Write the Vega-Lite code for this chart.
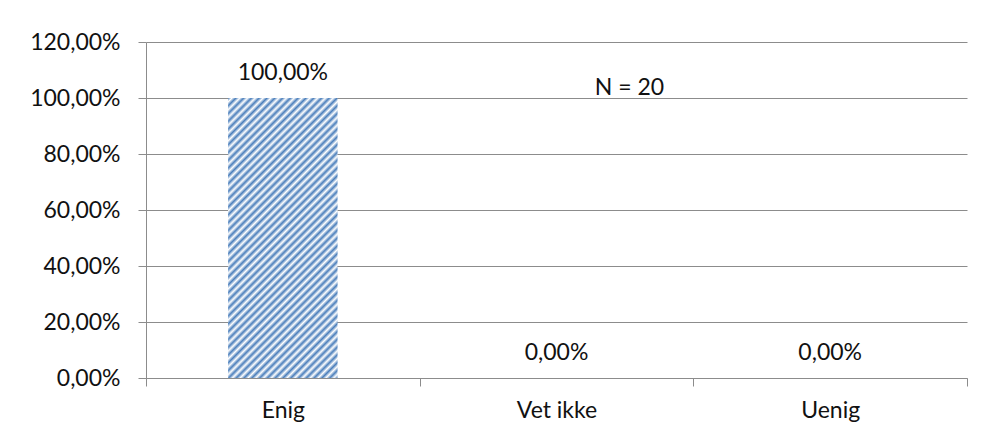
{
  "$schema": "https://vega.github.io/schema/vega-lite/v6.json",
  "width": 821,
  "height": 336,
  "autosize": {"type": "none"},
  "padding": {"left": 146, "top": 42, "right": 19, "bottom": 59},
  "background": "white",
  "config": {
    "locale": {"number": {"decimal": ",", "thousands": " ", "grouping": [3], "currency": ["", " kr"]}},
    "view": {"stroke": null},
    "font": "Lato"
  },
  "data": {
    "values": [
      {"svar": "Enig", "andel": 1.0},
      {"svar": "Vet ikke", "andel": 0.0},
      {"svar": "Uenig", "andel": 0.0}
    ]
  },
  "encoding": {
    "x": {
      "field": "svar", "type": "nominal", "sort": null,
      "scale": {"paddingInner": 0, "paddingOuter": 0},
      "axis": {
        "title": null, "labelAngle": 0, "tickBand": "extent",
        "domainColor": "#8c8c8c", "tickColor": "#8c8c8c", "tickSize": 8,
        "labelFont": "Lato", "labelFontSize": 23, "labelColor": "#111111",
        "labelPadding": 13, "grid": false
      }
    },
    "y": {
      "field": "andel", "type": "quantitative",
      "scale": {"domain": [0, 1.2], "nice": false, "zero": true},
      "axis": {
        "title": null, "format": ".2%", "values": [0, 0.2, 0.4, 0.6, 0.8, 1.0, 1.2],
        "domainColor": "#8c8c8c", "tickColor": "#8c8c8c", "tickSize": 8,
        "gridColor": "#8c8c8c", "grid": true,
        "labelFont": "Lato", "labelFontSize": 23, "labelColor": "#111111",
        "labelPadding": 18
      }
    }
  },
  "layer": [
    {
      "mark": {
        "type": "bar",
        "width": {"band": 0.4},
        "fill": {
          "gradient": "linear", "x1": 0, "y1": 0, "x2": 0.4718, "y2": 1.2065,
          "stops": [
            {"offset": 0, "color": "#4a7ebb"}, {"offset": 0.01, "color": "#ffffff"},
            {"offset": 0.02, "color": "#4a7ebb"}, {"offset": 0.03, "color": "#ffffff"},
            {"offset": 0.04, "color": "#4a7ebb"}, {"offset": 0.05, "color": "#ffffff"},
            {"offset": 0.06, "color": "#4a7ebb"}, {"offset": 0.07, "color": "#ffffff"},
            {"offset": 0.08, "color": "#4a7ebb"}, {"offset": 0.09, "color": "#ffffff"},
            {"offset": 0.10, "color": "#4a7ebb"}, {"offset": 0.11, "color": "#ffffff"},
            {"offset": 0.12, "color": "#4a7ebb"}, {"offset": 0.13, "color": "#ffffff"},
            {"offset": 0.14, "color": "#4a7ebb"}, {"offset": 0.15, "color": "#ffffff"},
            {"offset": 0.16, "color": "#4a7ebb"}, {"offset": 0.17, "color": "#ffffff"},
            {"offset": 0.18, "color": "#4a7ebb"}, {"offset": 0.19, "color": "#ffffff"},
            {"offset": 0.20, "color": "#4a7ebb"}, {"offset": 0.21, "color": "#ffffff"},
            {"offset": 0.22, "color": "#4a7ebb"}, {"offset": 0.23, "color": "#ffffff"},
            {"offset": 0.24, "color": "#4a7ebb"}, {"offset": 0.25, "color": "#ffffff"},
            {"offset": 0.26, "color": "#4a7ebb"}, {"offset": 0.27, "color": "#ffffff"},
            {"offset": 0.28, "color": "#4a7ebb"}, {"offset": 0.29, "color": "#ffffff"},
            {"offset": 0.30, "color": "#4a7ebb"}, {"offset": 0.31, "color": "#ffffff"},
            {"offset": 0.32, "color": "#4a7ebb"}, {"offset": 0.33, "color": "#ffffff"},
            {"offset": 0.34, "color": "#4a7ebb"}, {"offset": 0.35, "color": "#ffffff"},
            {"offset": 0.36, "color": "#4a7ebb"}, {"offset": 0.37, "color": "#ffffff"},
            {"offset": 0.38, "color": "#4a7ebb"}, {"offset": 0.39, "color": "#ffffff"},
            {"offset": 0.40, "color": "#4a7ebb"}, {"offset": 0.41, "color": "#ffffff"},
            {"offset": 0.42, "color": "#4a7ebb"}, {"offset": 0.43, "color": "#ffffff"},
            {"offset": 0.44, "color": "#4a7ebb"}, {"offset": 0.45, "color": "#ffffff"},
            {"offset": 0.46, "color": "#4a7ebb"}, {"offset": 0.47, "color": "#ffffff"},
            {"offset": 0.48, "color": "#4a7ebb"}, {"offset": 0.49, "color": "#ffffff"},
            {"offset": 0.50, "color": "#4a7ebb"}, {"offset": 0.51, "color": "#ffffff"},
            {"offset": 0.52, "color": "#4a7ebb"}, {"offset": 0.53, "color": "#ffffff"},
            {"offset": 0.54, "color": "#4a7ebb"}, {"offset": 0.55, "color": "#ffffff"},
            {"offset": 0.56, "color": "#4a7ebb"}, {"offset": 0.57, "color": "#ffffff"},
            {"offset": 0.58, "color": "#4a7ebb"}, {"offset": 0.59, "color": "#ffffff"},
            {"offset": 0.60, "color": "#4a7ebb"}, {"offset": 0.61, "color": "#ffffff"},
            {"offset": 0.62, "color": "#4a7ebb"}, {"offset": 0.63, "color": "#ffffff"},
            {"offset": 0.64, "color": "#4a7ebb"}, {"offset": 0.65, "color": "#ffffff"},
            {"offset": 0.66, "color": "#4a7ebb"}, {"offset": 0.67, "color": "#ffffff"},
            {"offset": 0.68, "color": "#4a7ebb"}, {"offset": 0.69, "color": "#ffffff"},
            {"offset": 0.70, "color": "#4a7ebb"}, {"offset": 0.71, "color": "#ffffff"},
            {"offset": 0.72, "color": "#4a7ebb"}, {"offset": 0.73, "color": "#ffffff"},
            {"offset": 0.74, "color": "#4a7ebb"}, {"offset": 0.75, "color": "#ffffff"},
            {"offset": 0.76, "color": "#4a7ebb"}, {"offset": 0.77, "color": "#ffffff"},
            {"offset": 0.78, "color": "#4a7ebb"}, {"offset": 0.79, "color": "#ffffff"},
            {"offset": 0.80, "color": "#4a7ebb"}, {"offset": 0.81, "color": "#ffffff"},
            {"offset": 0.82, "color": "#4a7ebb"}, {"offset": 0.83, "color": "#ffffff"},
            {"offset": 0.84, "color": "#4a7ebb"}, {"offset": 0.85, "color": "#ffffff"},
            {"offset": 0.86, "color": "#4a7ebb"}, {"offset": 0.87, "color": "#ffffff"},
            {"offset": 0.88, "color": "#4a7ebb"}, {"offset": 0.89, "color": "#ffffff"},
            {"offset": 0.90, "color": "#4a7ebb"}, {"offset": 0.91, "color": "#ffffff"},
            {"offset": 0.92, "color": "#4a7ebb"}, {"offset": 0.93, "color": "#ffffff"},
            {"offset": 0.94, "color": "#4a7ebb"}, {"offset": 0.95, "color": "#ffffff"},
            {"offset": 0.96, "color": "#4a7ebb"}, {"offset": 0.97, "color": "#ffffff"},
            {"offset": 0.98, "color": "#4a7ebb"}, {"offset": 0.99, "color": "#ffffff"},
            {"offset": 1.0, "color": "#4a7ebb"}
          ]
        }
      }
    },
    {
      "mark": {"type": "text", "baseline": "middle", "align": "center", "dy": -25, "fontSize": 23, "font": "Lato", "color": "#111111"},
      "encoding": {
        "text": {"field": "andel", "type": "quantitative", "format": ".2%"}
      }
    },
    {
      "data": {"values": [{"svar": "Vet ikke", "andel": 1.0357, "tekst": "N = 20"}]},
      "mark": {"type": "text", "baseline": "middle", "align": "center", "dx": 73, "fontSize": 23, "font": "Lato", "color": "#111111"},
      "encoding": {
        "text": {"field": "tekst", "type": "nominal"}
      }
    }
  ]
}
